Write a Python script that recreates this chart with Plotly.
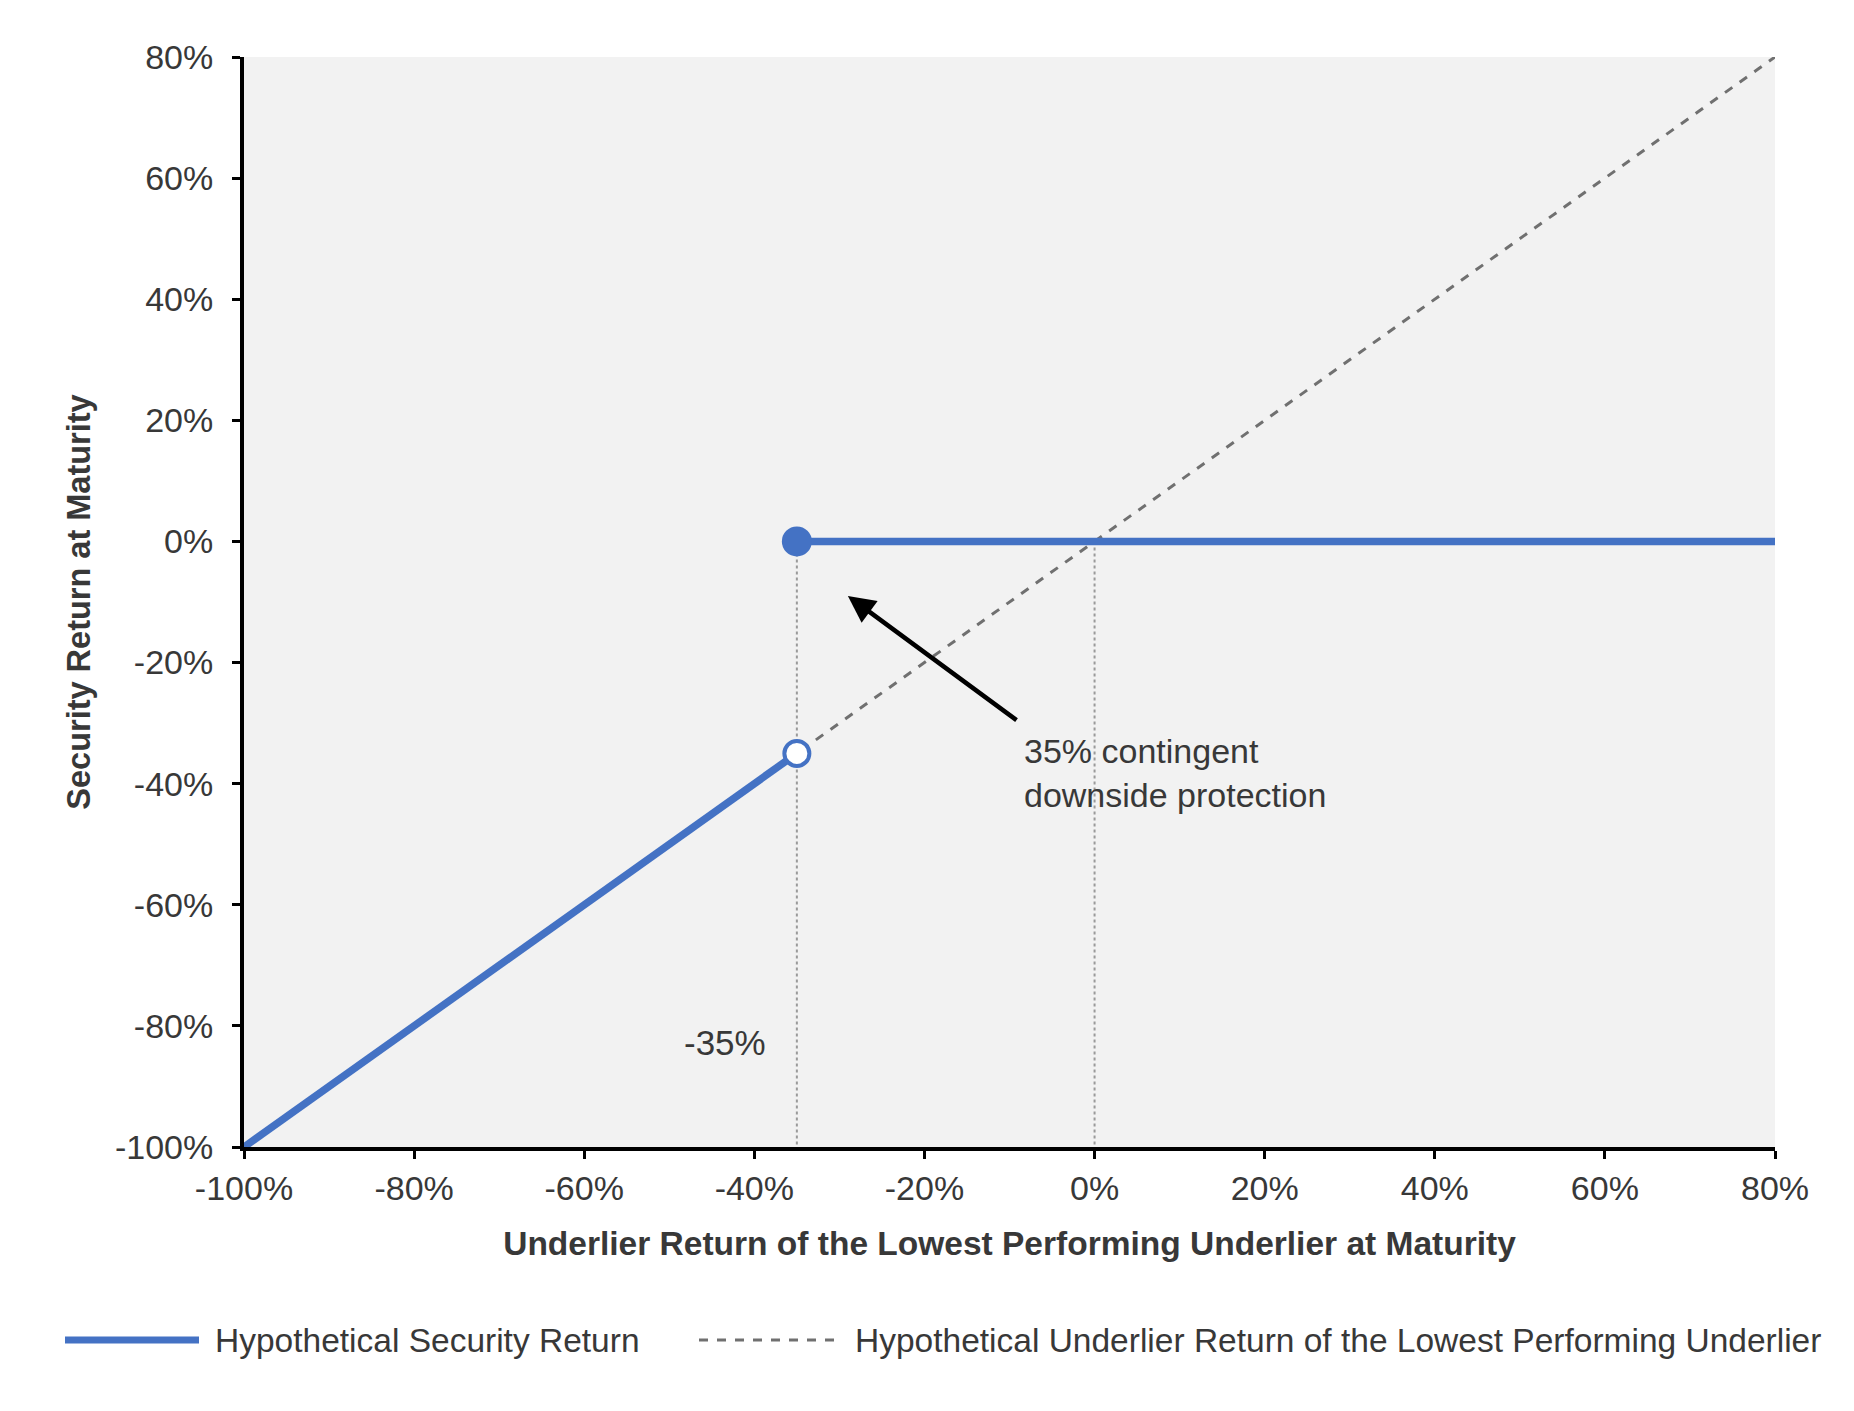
import plotly.graph_objects as go

# ---- data ----
x_ticks = [-100, -80, -60, -40, -20, 0, 20, 40, 60, 80]
x_tick_labels = ["-100%", "-80%", "-60%", "-40%", "-20%", "0%", "20%", "40%", "60%", "80%"]
y_ticks = [-100, -80, -60, -40, -20, 0, 20, 40, 60, 80]
y_tick_labels = ["-100%", "-80%", "-60%", "-40%", "-20%", "0%", "20%", "40%", "60%", "80%"]

underlier_x = [-100, 80]
underlier_y = [-100, 80]

security_low_x = [-100, -35]
security_low_y = [-100, -35]
security_high_x = [-35, 80]
security_high_y = [0, 0]

open_point = (-35, -35)
closed_point = (-35, 0)

guide_x_barrier = [-35, -35]
guide_y_barrier = [0, -100]
guide_x_zero = [0, 0]
guide_y_zero = [0, -100]

BLUE = "#4472C4"
GRAY_DASH = "#707070"
GRAY_DOT = "#9a9a9a"
TXT = "#383838"
FONT = "Arial, Liberation Sans, sans-serif"

W, H = 1854, 1411
L, T = 236, 49
PW, PH = 1531, 1090
R = W - L - PW
B = H - T - PH


def px(xp):
    return (xp - L) / PW


def py(yp):
    return (H - B - yp) / PH


fig = go.Figure()

# dotted guides
fig.add_trace(go.Scatter(x=guide_x_barrier, y=guide_y_barrier, mode="lines",
                         line=dict(color=GRAY_DOT, width=2, dash="dot"),
                         showlegend=False, hoverinfo="skip"))
fig.add_trace(go.Scatter(x=guide_x_zero, y=guide_y_zero, mode="lines",
                         line=dict(color=GRAY_DOT, width=2, dash="dot"),
                         showlegend=False, hoverinfo="skip"))

# underlier dashed
fig.add_trace(go.Scatter(x=underlier_x, y=underlier_y, mode="lines",
                         name="Hypothetical Underlier Return of the Lowest Performing Underlier",
                         line=dict(color=GRAY_DASH, width=3, dash="dash"),
                         showlegend=False))

# security return
fig.add_trace(go.Scatter(x=security_low_x, y=security_low_y, mode="lines",
                         name="Hypothetical Security Return",
                         line=dict(color=BLUE, width=7.5), showlegend=False))
fig.add_trace(go.Scatter(x=security_high_x, y=security_high_y, mode="lines",
                         line=dict(color=BLUE, width=7.5), showlegend=False))
fig.add_trace(go.Scatter(x=[closed_point[0]], y=[closed_point[1]], mode="markers",
                         marker=dict(color=BLUE, size=30, line=dict(color=BLUE, width=0)),
                         showlegend=False))
fig.add_trace(go.Scatter(x=[open_point[0]], y=[open_point[1]], mode="markers",
                         marker=dict(color="white", size=25, line=dict(color=BLUE, width=4)),
                         showlegend=False))

# annotations
fig.add_annotation(x=-29.0, y=-9.0, ax=-9.0, ay=-29.7, xref="x", yref="y",
                   axref="x", ayref="y", text="", showarrow=True,
                   arrowhead=2, arrowsize=1.2, arrowwidth=4.5, arrowcolor="black")
fig.add_annotation(x=-8.5, y=-31.2, xref="x", yref="y",
                   text="35% contingent<br>downside protection", showarrow=False,
                   xanchor="left", yanchor="top", align="left",
                   font=dict(family=FONT, size=34, color=TXT))
fig.add_annotation(x=-43.5, y=-82.8, xref="x", yref="y", text="-35%", showarrow=False,
                   font=dict(family=FONT, size=35, color=TXT))

# manual legend
ly = py(1332)
fig.add_shape(type="line", xref="paper", yref="paper", x0=px(57), x1=px(191), y0=ly, y1=ly,
              line=dict(color=BLUE, width=7))
fig.add_annotation(xref="paper", yref="paper", x=px(205), y=ly, text="Hypothetical Security Return",
                   showarrow=False, xanchor="left", yanchor="middle",
                   font=dict(family=FONT, size=33.5, color=TXT))
fig.add_shape(type="line", xref="paper", yref="paper", x0=px(691), x1=px(831), y0=ly, y1=ly,
              line=dict(color=GRAY_DASH, width=3, dash="dash"))
fig.add_annotation(xref="paper", yref="paper", x=px(845), y=ly,
                   text="Hypothetical Underlier Return of the Lowest Performing Underlier",
                   showarrow=False, xanchor="left", yanchor="middle",
                   font=dict(family=FONT, size=33.5, color=TXT))

axis_common = dict(showline=True, linecolor="black", linewidth=4, ticks="outside",
                   ticklen=8, tickwidth=3, tickcolor="black", showgrid=False, zeroline=False,
                   tickfont=dict(family=FONT, size=34, color=TXT))

fig.update_xaxes(range=[-100, 80], tickvals=x_ticks, ticktext=x_tick_labels,
                 ticklabelstandoff=0,
                 title=dict(text="<b>Underlier Return of the Lowest Performing Underlier at Maturity</b>",
                            font=dict(family=FONT, size=33.5, color=TXT), standoff=27),
                 **axis_common)
fig.update_yaxes(range=[-100, 80], tickvals=y_ticks, ticktext=y_tick_labels,
                 ticklabelstandoff=12,
                 title=dict(text="<b>Security Return at Maturity</b>",
                            font=dict(family=FONT, size=32.5, color=TXT), standoff=16),
                 **axis_common)

fig.update_layout(width=W, height=H, margin=dict(l=L, r=R, t=T, b=B, autoexpand=False),
                  plot_bgcolor="#f2f2f2", paper_bgcolor="white", showlegend=False)

fig.write_html("out.html")
